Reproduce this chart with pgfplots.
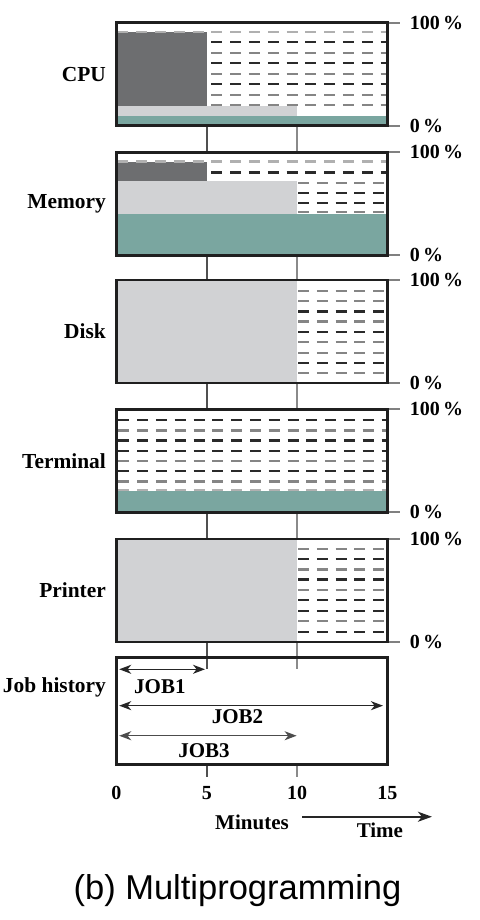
\documentclass[border=0pt]{standalone}
\usepackage{fontspec}
\setmainfont{Liberation Serif}
\newfontfamily\capfont{Liberation Sans}
\usepackage{pgfplots}
\pgfplotsset{compat=1.18}
\usetikzlibrary{arrows.meta}
\definecolor{dkg}{HTML}{6D6E70}
\definecolor{ltg}{HTML}{D1D2D4}
\definecolor{tealc}{HTML}{7AA6A0}
\definecolor{hd}{HTML}{2A2A2A}
\definecolor{hl}{HTML}{858585}
\definecolor{hx}{HTML}{B0B0B0}
\definecolor{cfive}{HTML}{505050}
\definecolor{cten}{HTML}{8A8A8A}

\tikzset{
 hatch/.style={line width=1.15pt, dash pattern=on 5.5pt off 3.9pt},
 conn/.style={line width=1pt},
 plab/.style={anchor=east, font=\bfseries\fontsize{10.7}{12}\selectfont, xshift=-1.8pt},
 tl/.style={font=\bfseries\fontsize{10.5}{12}\selectfont},
}
\pgfplotsset{
 panel/.style={
  scale only axis, width=135.5pt, height=51.5pt,
  xmin=0,xmax=15,ymin=0,ymax=100,
  axis on top, clip=false,
  axis line style={line width=1.2pt, color=black!88},
  xtick=\empty,
  ytick={0,100}, yticklabels={0\,\%,100\,\%},
  ytick pos=right, yticklabel pos=right,
  tick align=outside, major tick length=6pt,
  tick style={gray, line width=1pt},
  yticklabel style={font=\bfseries\fontsize{10}{12}\selectfont, anchor=west, inner sep=2pt, xshift=3pt},
  anchor=north west,
 },
}

\begin{document}
\begin{tikzpicture}
\useasboundingbox (0,0) rectangle (240pt,-460pt);

% CPU
\begin{axis}[panel, at={(58.25pt,-11.35pt)}]
\addplot[draw=none, fill=tealc] coordinates {(0,0) (15,0) (15,9) (0,9)} -- cycle;
\addplot[draw=none, fill=ltg] coordinates {(0,9) (10,9) (10,19.5) (0,19.5)} -- cycle;
\addplot[draw=none, fill=dkg] coordinates {(0,19.5) (5,19.5) (5,91.2) (0,91.2)} -- cycle;
\addplot[hatch, hx] coordinates {(0.05,91.2) (15,91.2)};
\addplot[hatch, hd] coordinates {(5.25,81) (15,81)};
\addplot[hatch, hl] coordinates {(5.25,70.6) (15,70.6)};
\addplot[hatch, hd] coordinates {(5.25,60.8) (15,60.8)};
\addplot[hatch, hl] coordinates {(5.25,50.3) (15,50.3)};
\addplot[hatch, hd] coordinates {(5.25,40.2) (15,40.2)};
\addplot[hatch, hl] coordinates {(5.25,29.8) (15,29.8)};
\addplot[hatch, hl] coordinates {(5.25,20.1) (15,20.1)};
\addplot[conn, cfive] coordinates {(5,0) (5,-26.3)};
\addplot[conn, cten] coordinates {(10,0) (10,-26.3)};
\node[plab] at (axis description cs:0,0.5) {CPU};
\end{axis}

% Memory
\begin{axis}[panel, at={(58.25pt,-76.15pt)}]
\addplot[draw=none, fill=tealc] coordinates {(0,0) (15,0) (15,40) (0,40)} -- cycle;
\addplot[draw=none, fill=ltg] coordinates {(0,40) (10,40) (10,72.3) (0,72.3)} -- cycle;
\addplot[draw=none, fill=dkg] coordinates {(0,72.3) (5,72.3) (5,91) (0,91)} -- cycle;
\addplot[hatch, hx] coordinates {(0.05,91) (15,91)};
\addplot[hatch, hd] coordinates {(5.25,80.3) (15,80.3)};
\addplot[hatch, hl] coordinates {(10.05,70.5) (15,70.5)};
\addplot[hatch, hd] coordinates {(10.05,60.8) (15,60.8)};
\addplot[hatch, hd] coordinates {(10.05,51) (15,51)};
\addplot[hatch, hl] coordinates {(10.05,42) (15,42)};
\addplot[conn, cfive] coordinates {(5,0) (5,-24.5)};
\addplot[conn, cten] coordinates {(10,0) (10,-24.5)};
\node[plab] at (axis description cs:0,0.5) {Memory};
\end{axis}

% Disk
\begin{axis}[panel, at={(58.25pt,-140pt)}]
\addplot[draw=none, fill=ltg] coordinates {(0,0) (10,0) (10,100) (0,100)} -- cycle;
\addplot[hatch, hl] coordinates {(10.05,89.4) (15,89.4)};
\addplot[hatch, hl] coordinates {(10.05,79.7) (15,79.7)};
\addplot[hatch, hd] coordinates {(10.05,69.4) (15,69.4)};
\addplot[hatch, hl] coordinates {(10.05,59.7) (15,59.7)};
\addplot[hatch, hd] coordinates {(10.05,49.4) (15,49.4)};
\addplot[hatch, hl] coordinates {(10.05,39.7) (15,39.7)};
\addplot[hatch, hl] coordinates {(10.05,29.4) (15,29.4)};
\addplot[hatch, hd] coordinates {(10.05,19.7) (15,19.7)};
\addplot[hatch, hl] coordinates {(10.05,9.7) (15,9.7)};
\addplot[conn, cfive] coordinates {(5,0) (5,-26)};
\addplot[conn, cten] coordinates {(10,0) (10,-26)};
\node[plab] at (axis description cs:0,0.5) {Disk};
\end{axis}

% Terminal
\begin{axis}[panel, at={(58.25pt,-204.65pt)}]
\addplot[draw=none, fill=tealc] coordinates {(0,0) (15,0) (15,20.3) (0,20.3)} -- cycle;
\addplot[hatch, hd] coordinates {(0.1,89.6) (15,89.6)};
\addplot[hatch, hl] coordinates {(0.1,79.3) (15,79.3)};
\addplot[hatch, hd] coordinates {(0.1,69.6) (15,69.6)};
\addplot[hatch, hd] coordinates {(0.1,59.6) (15,59.6)};
\addplot[hatch, hl] coordinates {(0.1,50) (15,50)};
\addplot[hatch, hd] coordinates {(0.1,40) (15,40)};
\addplot[hatch, hl] coordinates {(0.1,30) (15,30)};
\addplot[hatch, hx] coordinates {(0.1,21.6) (15,21.6)};
\addplot[conn, cfive] coordinates {(5,0) (5,-26.4)};
\addplot[conn, cten] coordinates {(10,0) (10,-26.4)};
\node[plab] at (axis description cs:0,0.5) {Terminal};
\end{axis}

% Printer
\begin{axis}[panel, at={(58.25pt,-269.5pt)}]
\addplot[draw=none, fill=ltg] coordinates {(0,0) (10,0) (10,100) (0,100)} -- cycle;
\addplot[hatch, hl] coordinates {(10.05,90.3) (15,90.3)};
\addplot[hatch, hd] coordinates {(10.05,80.3) (15,80.3)};
\addplot[hatch, hl] coordinates {(10.05,70.5) (15,70.5)};
\addplot[hatch, hd] coordinates {(10.05,60.8) (15,60.8)};
\addplot[hatch, hl] coordinates {(10.05,50.4) (15,50.4)};
\addplot[hatch, hd] coordinates {(10.05,40.7) (15,40.7)};
\addplot[hatch, hd] coordinates {(10.05,30.3) (15,30.3)};
\addplot[hatch, hl] coordinates {(10.05,20.3) (15,20.3)};
\addplot[hatch, hd] coordinates {(10.05,9.7) (15,9.7)};
\addplot[conn, cfive] coordinates {(5,0) (5,-15.2)};
\addplot[conn, cten] coordinates {(10,0) (10,-15.2)};
\node[plab] at (axis description cs:0,0.5) {Printer};
\end{axis}

% Job history
\begin{axis}[panel, at={(58.25pt,-328.65pt)}, height=53.5pt,
  ytick=\empty, xtick={0,5,10,15}, xticklabels={0,5,10,15},
  major tick length=0pt, xtick pos=bottom,
  xticklabel style={anchor=center, yshift=-14.5pt, font=\bfseries\fontsize{10}{12}\selectfont}]
\addplot[conn, cfive] coordinates {(5,100) (5,89.3)};
\addplot[conn, cten] coordinates {(10,100) (10,89.3)};
\addplot[conn, cfive] coordinates {(5,0) (5,-11.7)};
\addplot[conn, cten] coordinates {(10,0) (10,-11.7)};
\addplot[line width=0.75pt, black!85, {Stealth[length=6pt,width=4.5pt,inset=1.8pt]}-{Stealth[length=6pt,width=4.5pt,inset=1.8pt]}] coordinates {(0.15,88.8) (4.9,88.8)};
\addplot[line width=0.75pt, black!85, {Stealth[length=6pt,width=4.5pt,inset=1.8pt]}-{Stealth[length=6pt,width=4.5pt,inset=1.8pt]}] coordinates {(0.15,54.8) (14.75,54.8)};
\addplot[line width=0.75pt, black!70, {Stealth[length=6pt,width=4.5pt,inset=1.8pt]}-{Stealth[length=6pt,width=4.5pt,inset=1.8pt]}] coordinates {(0.15,26.7) (9.97,26.7)};
\addplot[line width=1pt, black!85, -{Stealth[length=7pt,width=5pt,inset=2pt]}] coordinates {(10.27,-49) (17.46,-49)};
\node[tl] at (axis cs:2.4,72.5) {JOB1};
\node[tl] at (axis cs:6.7,44.2) {JOB2};
\node[tl] at (axis cs:4.84,12.4) {JOB3};
\node[tl] at (axis cs:7.5,-54) {Minutes};
\node[tl] at (axis cs:14.58,-61.4) {Time};
\node[plab] at (axis description cs:0,0.722) {Job history};
\end{axis}

\node[font=\capfont\fontsize{17.25}{20}\selectfont, anchor=base] at (118.75pt,-449.5pt) {(b) Multiprogramming};
\end{tikzpicture}
\end{document}
